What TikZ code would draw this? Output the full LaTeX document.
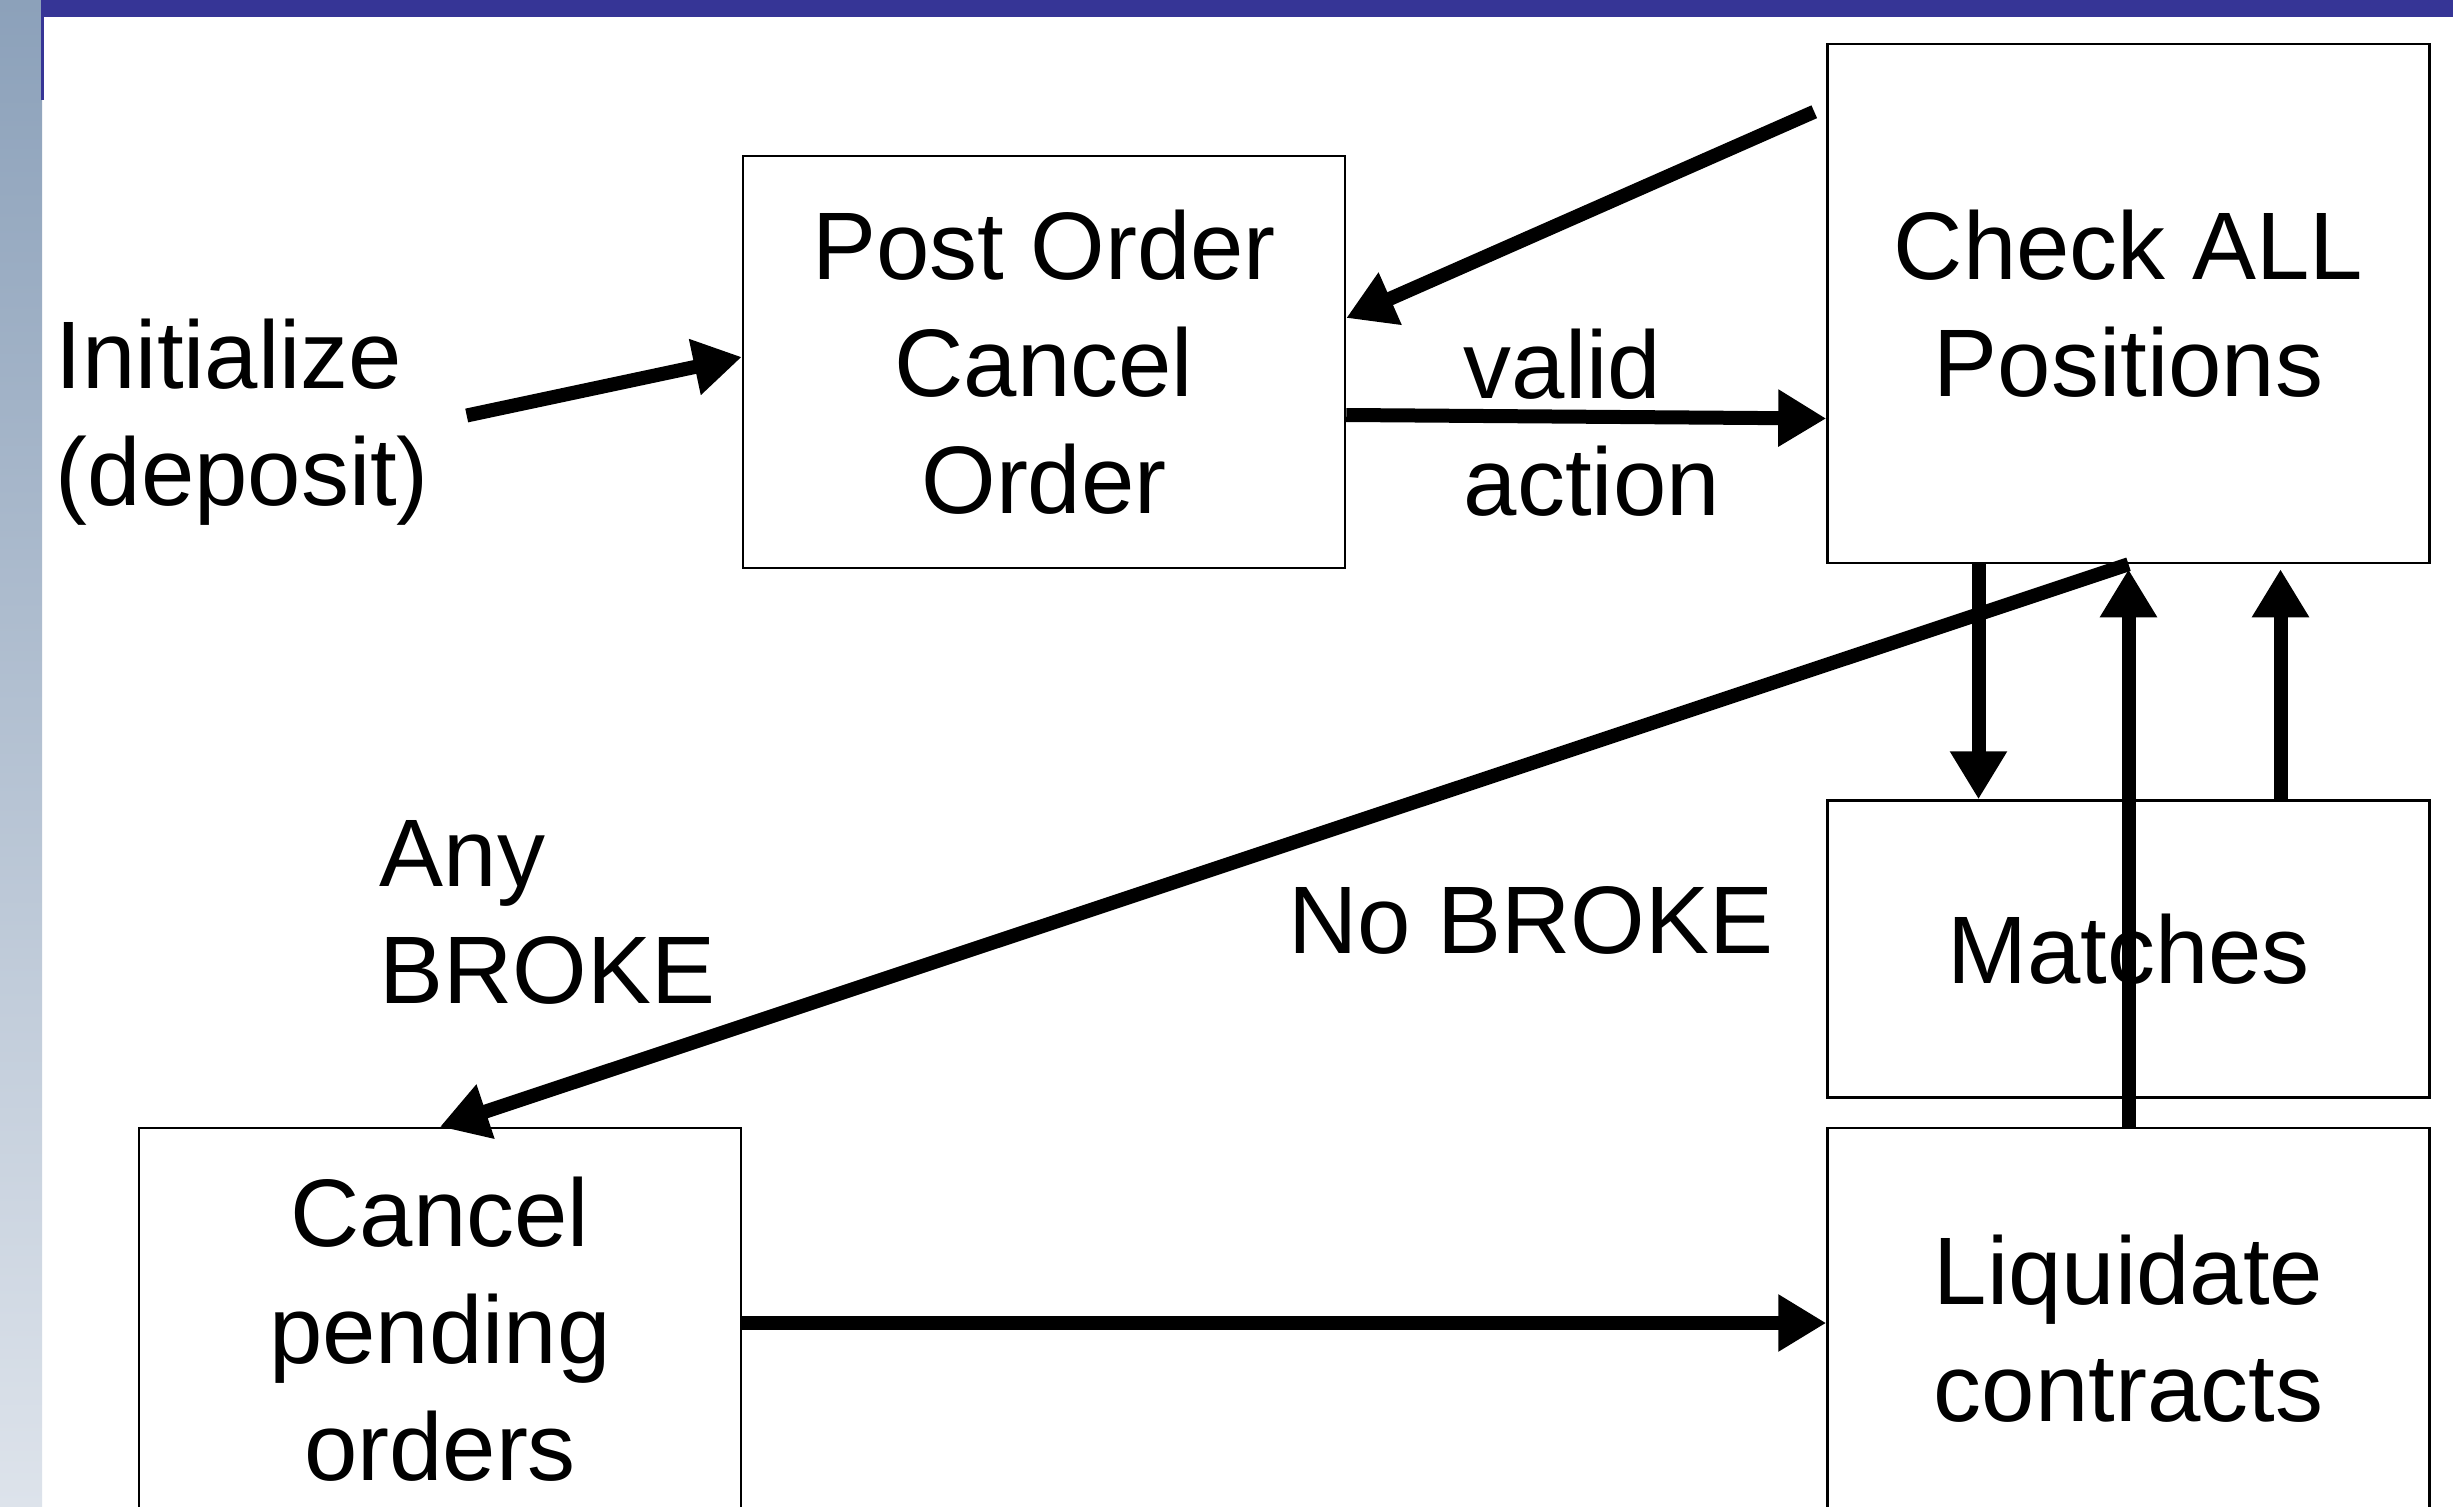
\documentclass[tikz,border=0pt]{standalone}
\usepackage{fontspec}
\setmainfont{Liberation Sans}
\usetikzlibrary{positioning, arrows.meta}
\definecolor{barblue}{RGB}{54,53,150}
\definecolor{striptop}{RGB}{140,161,186}
\definecolor{stripbot}{RGB}{221,227,235}
\tikzset{node distance=2.35cm, % Gap between stacked boxes
every node/.style={ % Same big sans font everywhere
font=\fontsize{27.3pt}{33.3pt}\selectfont},
box/.style={ % Sets the properties for each box
draw, line width=0.25mm,
minimum width=6.02cm,
align=center, inner sep=0pt},
lbl/.style={align=left, inner sep=0pt}, % Free labels
every edge/.style={ % Sets the properties for each arrow
draw,->,>={Triangle[length=4.8mm,width=5.4mm]}, % Filled triangle heads
line width=1.4mm}}

\begin{document}
\begin{tikzpicture}

    \useasboundingbox (0,0) rectangle (24.53,-15.07);
    \clip (0,0) rectangle (24.53,-15.07);
    \fill[white] (0,0) rectangle (24.53,-15.07);
    \shade[top color=striptop, bottom color=stripbot] (0,0) rectangle (0.42,-15.07);
    \fill[barblue] (0.42,0) rectangle (24.53,-0.17);
    \fill[barblue] (0.415,0) rectangle (0.44,-1.0);

    \node[box, minimum height=4.12cm] (post) at (10.44,-3.62) {Post Order\\Cancel\\Order};
    \node[box, minimum height=5.19cm] (check) at (21.285,-3.035) {Check ALL\\Positions};
    \node[box, minimum height=2.97cm, below=of check] (matches) {Matches};
    \node[box, minimum height=4.02cm, below=0.28cm of matches] (liquidate) {Liquidate\\contracts};
    \node[box, minimum height=4.02cm, left=10.84cm of liquidate] (cancel) {Cancel\\pending\\orders};

    \node[lbl, anchor=west] (init) at (0.55,-4.225) {Initialize\\(deposit)};
    \node[lbl, anchor=west] (valid) at (14.63,-4.225) {valid\\action};
    \node[lbl, anchor=west] (anyb) at (3.79,-9.12) {Any\\BROKE};
    \node[lbl] (nob) at (15.31,-9.20) {No BROKE};

    \draw ([xshift=3.7mm,yshift=0.7mm]init.east) edge ([yshift=0.5mm]post.west);
    \draw ([xshift=-1.2mm,yshift=-6.9mm]check.north west) edge ([yshift=4.4mm]post.east);
    \draw ([yshift=-5.3mm]post.east) edge ([yshift=-11.5mm]check.west);
    \draw (check.south) edge (cancel.north);
    \draw ([xshift=-1.5cm]check.south) edge ([xshift=-1.5cm]matches.north);
    \draw ([xshift=1.52cm]matches.north) edge ([xshift=1.52cm,yshift=-0.5mm]check.south);
    \draw (liquidate.north) edge ([yshift=-0.5mm]check.south);
    \draw ([yshift=0.6mm]cancel.east) edge ([yshift=0.6mm]liquidate.west);

\end{tikzpicture}
\end{document}
